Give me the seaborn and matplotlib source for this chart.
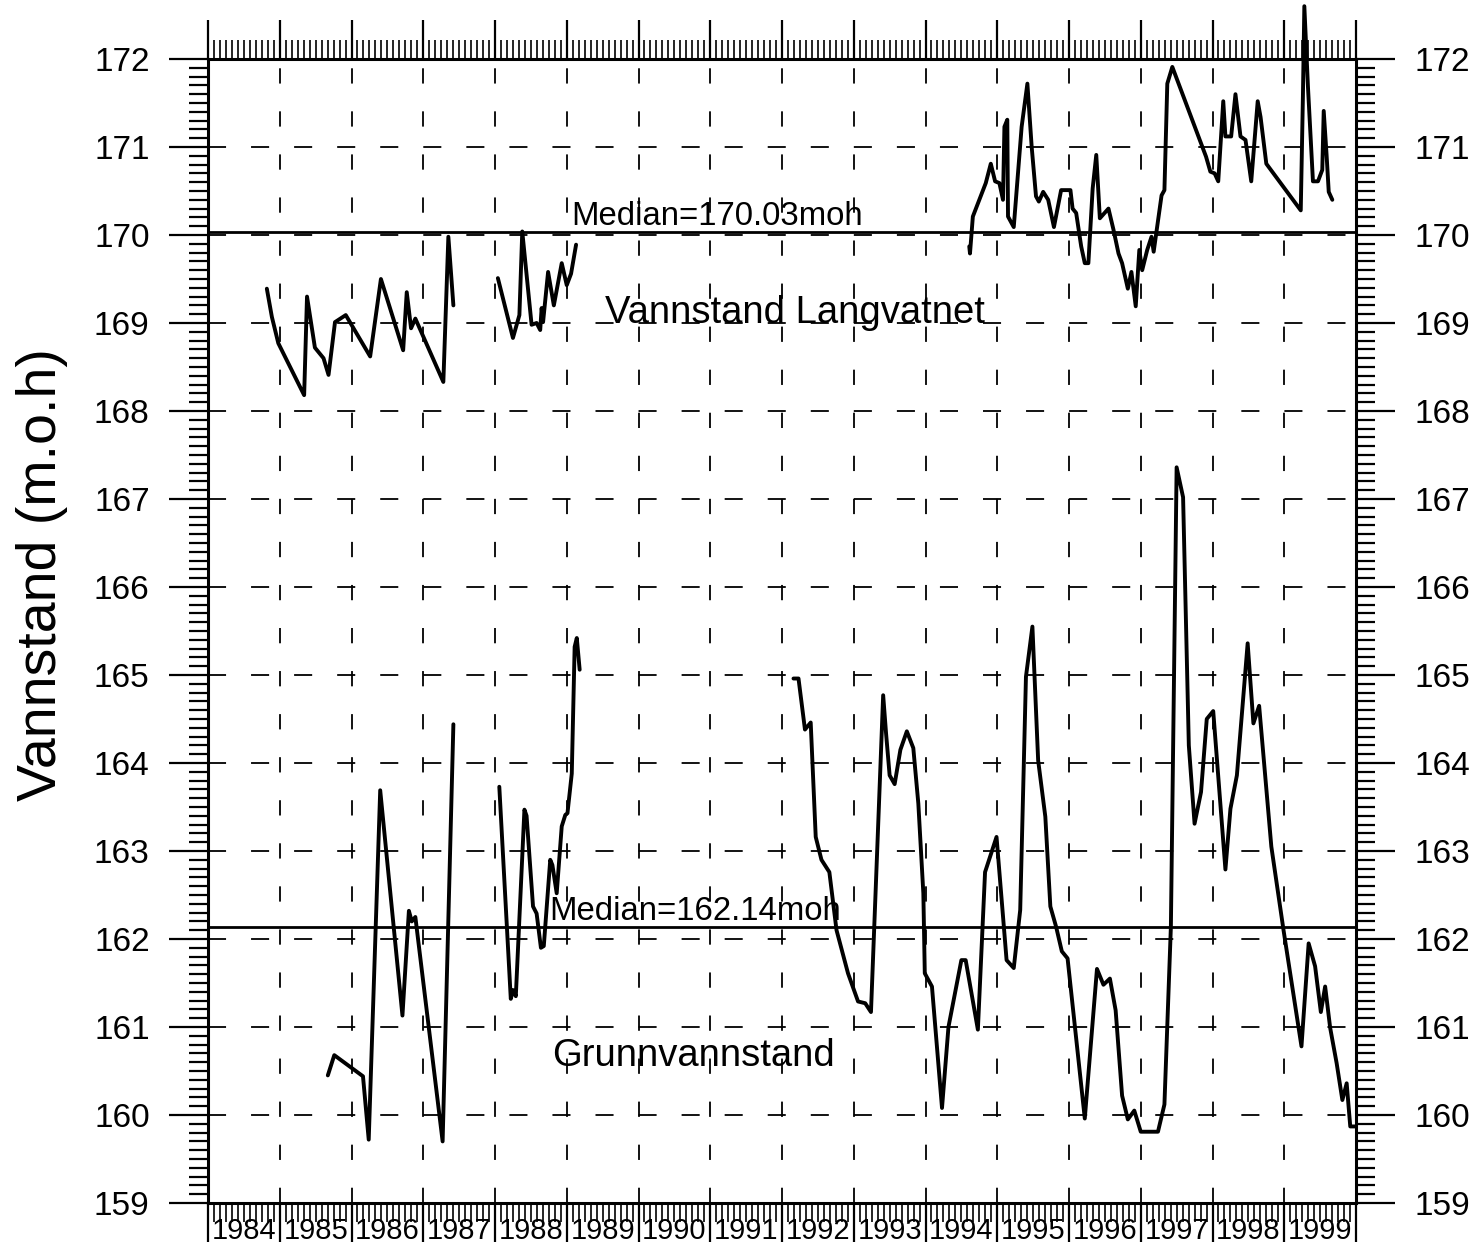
import numpy as np
import pandas as pd
import matplotlib
matplotlib.use("Agg")
import matplotlib.pyplot as plt
import seaborn as sns
from matplotlib.ticker import MultipleLocator, FixedLocator

# ---------------- data ----------------
years = list(range(1984, 2000))
year_labels = [str(y) for y in years]

median_lake = 170.03
median_ground = 162.14

# Vannstand Langvatnet (lake level), three measured periods
lake_t1 = [1984.82, 1984.89, 1984.98, 1985.34, 1985.38, 1985.49, 1985.61, 1985.68, 1985.77, 1985.92,
           1986.26, 1986.41, 1986.72, 1986.77, 1986.83, 1986.89, 1987.28, 1987.35, 1987.42]
lake_v1 = [169.39, 169.07, 168.77, 168.18, 169.30, 168.72, 168.60, 168.41, 169.01, 169.09,
           168.62, 169.50, 168.69, 169.35, 168.94, 169.05, 168.33, 169.98, 169.20]

lake_t2 = [1988.04, 1988.25, 1988.34, 1988.38, 1988.51, 1988.58, 1988.63, 1988.65, 1988.67, 1988.74,
           1988.82, 1988.93, 1989.00, 1989.06, 1989.13]
lake_v2 = [169.51, 168.83, 169.09, 170.04, 168.98, 169.00, 168.92, 169.17, 169.01, 169.58,
           169.20, 169.68, 169.43, 169.56, 169.89]

lake_t3 = [1994.61, 1994.62, 1994.66, 1994.84, 1994.91, 1994.97, 1995.03, 1995.08, 1995.10, 1995.14,
           1995.15, 1995.23, 1995.34, 1995.42, 1995.48, 1995.54, 1995.58, 1995.64, 1995.71, 1995.79,
           1995.89, 1996.02, 1996.05, 1996.10, 1996.17, 1996.22, 1996.27, 1996.33, 1996.38, 1996.43,
           1996.55, 1996.62, 1996.69, 1996.74, 1996.82, 1996.87, 1996.93, 1996.98, 1997.02, 1997.09,
           1997.15, 1997.18, 1997.29, 1997.33, 1997.37, 1997.44, 1997.91, 1997.97, 1998.03, 1998.08,
           1998.15, 1998.18, 1998.26, 1998.32, 1998.39, 1998.46, 1998.54, 1998.63, 1998.67, 1998.75,
           1999.23, 1999.26, 1999.28, 1999.33, 1999.40, 1999.47, 1999.53, 1999.55, 1999.59, 1999.62,
           1999.67]
lake_v3 = [169.87, 169.79, 170.21, 170.59, 170.81, 170.61, 170.59, 170.40, 171.23, 171.31,
           170.21, 170.09, 171.23, 171.72, 171.00, 170.44, 170.38, 170.49, 170.40, 170.09,
           170.51, 170.51, 170.30, 170.25, 169.87, 169.68, 169.68, 170.53, 170.91, 170.19,
           170.30, 170.06, 169.79, 169.68, 169.39, 169.58, 169.19, 169.83, 169.60, 169.83,
           169.98, 169.81, 170.45, 170.51, 171.72, 171.91, 170.89, 170.72, 170.70, 170.61,
           171.52, 171.12, 171.12, 171.60, 171.12, 171.08, 170.61, 171.52, 171.34, 170.81,
           170.28, 171.57, 172.60, 171.69, 170.61, 170.61, 170.74, 171.41, 170.91, 170.49,
           170.40]

# Grunnvannstand (groundwater level), three measured periods
ground_t1 = [1985.67, 1985.76, 1986.16, 1986.24, 1986.40, 1986.71, 1986.80, 1986.84, 1986.89, 1987.27, 1987.42]
ground_v1 = [160.45, 160.68, 160.44, 159.72, 163.69, 161.13, 162.32, 162.20, 162.25, 159.70, 164.44]

ground_t2 = [1988.06, 1988.22, 1988.25, 1988.29, 1988.41, 1988.44, 1988.53, 1988.58, 1988.64, 1988.68,
             1988.77, 1988.80, 1988.86, 1988.93, 1988.98, 1989.01, 1989.07, 1989.11, 1989.14, 1989.18]
ground_v2 = [163.73, 161.32, 161.42, 161.35, 163.47, 163.40, 162.37, 162.29, 161.90, 161.92,
             162.90, 162.84, 162.52, 163.28, 163.41, 163.43, 163.88, 165.32, 165.42, 165.06]

ground_t3 = [1992.16, 1992.23, 1992.32, 1992.40, 1992.47, 1992.55, 1992.66, 1992.76, 1992.92, 1993.06,
             1993.16, 1993.24, 1993.41, 1993.45, 1993.50, 1993.57, 1993.65, 1993.74, 1993.83, 1993.90,
             1993.97, 1993.99, 1994.09, 1994.23, 1994.32, 1994.50, 1994.56, 1994.73, 1994.83, 1994.99,
             1995.13, 1995.23, 1995.32, 1995.40, 1995.49, 1995.57, 1995.67, 1995.74, 1995.82, 1995.90,
             1995.98, 1996.22, 1996.39, 1996.48, 1996.57, 1996.65, 1996.74, 1996.82, 1996.91, 1997.00,
             1997.24, 1997.33, 1997.42, 1997.50, 1997.59, 1997.67, 1997.75, 1997.84, 1997.92, 1998.01,
             1998.18, 1998.25, 1998.34, 1998.49, 1998.57, 1998.65, 1998.82, 1998.99, 1999.24, 1999.34,
             1999.43, 1999.51, 1999.57, 1999.64, 1999.73, 1999.81, 1999.87, 1999.92, 1999.99]
ground_v3 = [164.96, 164.96, 164.38, 164.46, 163.16, 162.90, 162.76, 162.10, 161.61, 161.29,
             161.27, 161.17, 164.77, 164.34, 163.86, 163.76, 164.15, 164.36, 164.17, 163.54,
             162.52, 161.61, 161.46, 160.08, 161.00, 161.76, 161.76, 160.97, 162.76, 163.16,
             161.76, 161.67, 162.33, 164.98, 165.55, 164.03, 163.39, 162.37, 162.14, 161.86,
             161.78, 159.96, 161.66, 161.48, 161.55, 161.19, 160.22, 159.95, 160.05, 159.81,
             159.81, 160.12, 162.14, 167.36, 167.02, 164.20, 163.31, 163.67, 164.50, 164.59,
             162.79, 163.48, 163.86, 165.36, 164.45, 164.65, 163.05, 162.10, 160.78, 161.95,
             161.69, 161.17, 161.46, 160.99, 160.59, 160.17, 160.36, 159.87, 159.87]

segments = [("lake1", lake_t1, lake_v1), ("lake2", lake_t2, lake_v2), ("lake3", lake_t3, lake_v3),
            ("gw1", ground_t1, ground_v1), ("gw2", ground_t2, ground_v2), ("gw3", ground_t3, ground_v3)]
frames = []
for name, t, v in segments:
    assert len(t) == len(v), name
    frames.append(pd.DataFrame({"year": t, "level": v, "seg": name}))
df = pd.concat(frames, ignore_index=True)

# ---------------- style ----------------
sns.set_theme(style="white")
plt.rcParams["font.family"] = ["Liberation Sans", "DejaVu Sans"]
plt.rcParams["lines.scale_dashes"] = False

W, H = 1477, 1257
fig = plt.figure(figsize=(W / 100, H / 100), dpi=100, facecolor="white")
left, right, top, bottom = 208, 1356, 59, 1203
ax = fig.add_axes([left / W, 1 - bottom / H, (right - left) / W, (bottom - top) / H])
ax.set_facecolor("white")

# grid
for xv in range(1985, 2000):
    ax.axvline(xv, color="black", lw=1.3, ls=(0, (11, 20)), zorder=1)
for yv in range(160, 172):
    ax.axhline(yv, color="black", lw=1.3, ls=(0, (13, 18)), zorder=1)

sns.lineplot(data=df, x="year", y="level", units="seg", estimator=None, sort=False,
             color="black", lw=2.8, ax=ax, legend=False, zorder=3)
for ln in ax.lines:
    if ln.get_linestyle() == "-":
        ln.set_clip_on(False)

ax.axhline(median_lake, color="black", lw=2.0, zorder=2)
ax.axhline(median_ground, color="black", lw=2.0, zorder=2)

ax.set_xlim(1984, 2000)
ax.set_ylim(159, 172)

# x axis: year boundaries (major) and months (minor)
ax.xaxis.set_major_locator(FixedLocator(list(range(1984, 2001))))
ax.xaxis.set_minor_locator(MultipleLocator(1 / 12))
ax.tick_params(axis="x", which="major", direction="out", length=28, width=1.6,
               top=True, bottom=True, labelbottom=False, labeltop=False, color="black")
ax.tick_params(axis="x", which="minor", direction="out", length=14, width=1.2,
               top=True, bottom=True, color="black")

# y axis
ax.yaxis.set_major_locator(FixedLocator(list(range(159, 173))))
ax.yaxis.set_minor_locator(MultipleLocator(0.1))
ax.tick_params(axis="y", which="major", direction="out", length=28, width=1.6,
               left=True, right=True, labelleft=True, labelright=True,
               labelsize=24, pad=14, color="black", labelcolor="black")
ax.tick_params(axis="y", which="minor", direction="out", length=14, width=1.6,
               left=True, right=True, color="black")

for sp in ax.spines.values():
    sp.set_visible(True)
    sp.set_color("black")
    sp.set_linewidth(2.2)

ax.set_xlabel("")
ax.set_ylabel("Vannstand (m.o.h)", fontsize=40, color="black")
ax.yaxis.set_label_coords(-0.122, 0.549)

# year labels centred inside each year
sec = ax.secondary_xaxis("bottom")
sec.set_xticks([y + 0.5 for y in years])
sec.set_xticklabels(year_labels)
sec.tick_params(length=0, pad=10, labelsize=21, labelcolor="black")
sec.spines["bottom"].set_visible(False)

# annotations
ax.text(1991.09, 170.21, "Median=170.03moh", fontsize=23.7, ha="center", va="center", color="black")
ax.text(1990.79, 162.31, "Median=162.14moh", fontsize=23.7, ha="center", va="center", color="black")
ax.text(1992.18, 169.11, "Vannstand Langvatnet", fontsize=27.5, ha="center", va="center", color="black")
ax.text(1990.76, 160.67, "Grunnvannstand", fontsize=27.5, ha="center", va="center", color="black")

fig.savefig("out.png", dpi=100, facecolor="white")
